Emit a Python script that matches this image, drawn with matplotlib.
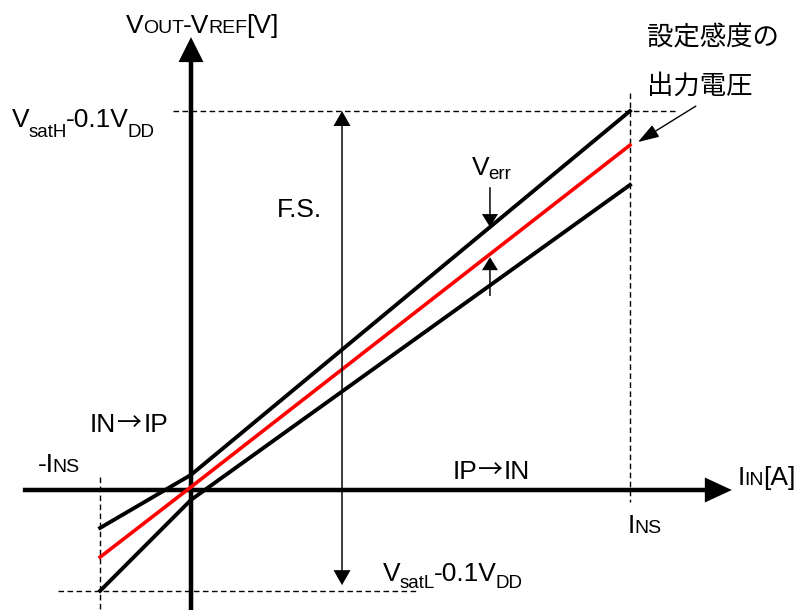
import matplotlib
matplotlib.use("Agg")
import matplotlib.pyplot as plt
import matplotlib.transforms as mtransforms
import numpy as np

# 電流 (I_NS = 1) と出力電圧 (VsatH-0.1VDD = 1) の模式図データ
x_pts = [-0.207, 0.0, 1.0]            # -I_NS, 0, I_NS
v_upper = [-0.100, 0.040, 1.0]        # 誤差上限
v_ideal = [-0.177, 0.008, 0.910]      # 設定感度の出力電圧
v_lower = [-0.266, -0.026, 0.805]     # 誤差下限
v_sat_h = 1.0
v_sat_l = -0.266
x_err = 0.681                         # Verr 矢印の位置
x_fs = 0.344                          # F.S. 矢印の位置

plt.rcParams["font.family"] = ["Liberation Sans", "DejaVu Sans"]
JP = ["Noto Sans CJK JP", "DejaVu Sans"]

fig = plt.figure(figsize=(7.98, 6.10), dpi=100)
ax = fig.add_axes([0, 0, 1, 1])
ax.set_xlim(-0.4351, 1.3827)
ax.set_ylim(-0.3166, 1.2929)
ax.axis("off")

px = 1 / 439  # x 方向 1 ピクセル
py = 1 / 379  # y 方向 1 ピクセル

# 軸
ax.arrow(-0.383, 0, 1.232 + 0.383, 0, width=4.5 * py, head_width=25 * py,
         head_length=27 * px, length_includes_head=True, fc="black", lw=0, zorder=2)
ax.arrow(0, -0.34, 0, 1.195 + 0.34, width=4.5 * px, head_width=25 * px,
         head_length=25 * py, length_includes_head=True, fc="black", lw=0, zorder=2)

# 破線
dash = dict(color="black", lw=1, dashes=(4, 2.5), zorder=1)
ax.plot([x_pts[0], x_pts[0]], [0.034, -0.34], **dash)
ax.plot([x_pts[-1], x_pts[-1]], [1.047, -0.032], **dash)
ax.plot([-0.041, 1.109], [v_sat_h, v_sat_h], **dash)
ax.plot([-0.303, 0.52], [v_sat_l, v_sat_l], **dash)

# 出力特性
ax.plot(x_pts, v_upper, color="black", lw=2.8, zorder=3)
ax.plot(x_pts, v_lower, color="black", lw=2.8, zorder=3)
ax.plot(x_pts, v_ideal, color="#ff0000", lw=2.6, zorder=4)

# F.S. 両矢印
mid = (v_sat_h + (-0.251)) / 2
for end in (v_sat_h, -0.251):
    ax.arrow(x_fs, mid, 0, end - mid, width=1.5 * px, head_width=17 * px,
             head_length=15 * py, length_includes_head=True, fc="black", lw=0, zorder=5)

# Verr 矢印
top_tip = np.interp(x_err, x_pts, v_upper)
bot_tip = np.interp(x_err, x_pts, v_ideal) - 3 * py
ax.arrow(x_err, 0.799, 0, top_tip - 0.799, width=1.5 * px, head_width=16 * px,
         head_length=13 * py, length_includes_head=True, fc="black", lw=0, zorder=5)
ax.arrow(x_err, 0.512, 0, bot_tip - 0.512, width=1.5 * px, head_width=16 * px,
         head_length=13 * py, length_includes_head=True, fc="black", lw=0, zorder=5)

# 設定感度の出力電圧 の引き出し矢印
ax.annotate("", xy=(1.018, 0.918), xytext=(1.150, 1.013),
            arrowprops=dict(arrowstyle="-|>,head_length=1.3,head_width=0.42",
                            mutation_scale=10, lw=1, color="black",
                            shrinkA=0, shrinkB=0))

renderer = fig.canvas.get_renderer()


def rich(x, y, parts):
    # 添字付きの文字列を少しずつ並べる: (文字, サイズ, 上下ずれ, フォント, 前の余白)
    dx = 0.0
    for part in parts:
        s, size, dy = part[:3]
        fam = part[3] if len(part) > 3 else None
        dx += part[4] if len(part) > 4 else 0
        tr = mtransforms.offset_copy(ax.transData, fig=fig, x=dx, y=dy, units="dots")
        kw = {"family": fam} if fam else {}
        t = ax.text(x, y, s, fontsize=size, transform=tr, ha="left", va="baseline", **kw)
        dx += t.get_window_extent(renderer).width - 1


BIG = 19
SMALL = 14
SUB = 13.5

rich(-0.148, 1.206, [("V", BIG, 0), ("OUT", SMALL, 0), ("-V", BIG, 0),
                     ("REF", SMALL, 0), ("[V]", BIG, 0)])
rich(-0.408, 0.958, [("V", BIG, 0), ("satH", SUB, -10), ("-0.1V", BIG, 0), ("DD", SUB, -10)])
rich(0.437, -0.240, [("V", BIG, 0), ("satL", SUB, -7), ("-0.1V", BIG, 0), ("DD", SUB, -7)])
rich(0.640, 0.831, [("V", BIG, 0), ("err", SUB, -4)])
rich(-0.349, 0.047, [("-I", BIG, 0), ("NS", SMALL, 0)])
rich(1.246, 0.013, [("I", BIG, 0), ("IN", SMALL, 0), ("[A]", BIG, 0)])
rich(0.995, -0.113, [("I", BIG, 0), ("NS", SMALL, 0)])
rich(-0.230, 0.153, [("IN", BIG, 0), ("→", 18, 1, JP, 2), ("IP", BIG, 0, None, 2)])
rich(0.595, 0.029, [("IP", BIG, 0), ("→", 18, 1, JP, 2), ("IN", BIG, 0, None, 2)])

ax.text(0.196, 0.720, "F.S.", fontsize=BIG, va="baseline")

ax.text(1.039, 1.193, "設定感度の", fontsize=19, family=JP, va="center")
ax.text(1.039, 1.066, "出力電圧", fontsize=19, family=JP, va="center")

fig.savefig("out.png", dpi=100)
